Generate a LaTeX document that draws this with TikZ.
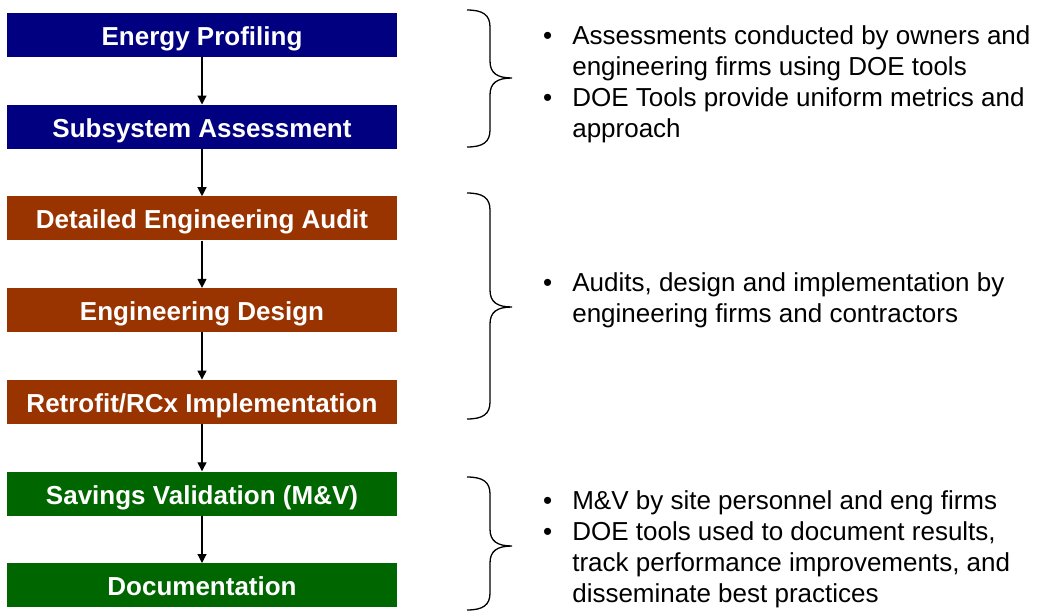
\documentclass[tikz,border=0pt]{standalone}
\usepackage{fontspec}
\setmainfont{Liberation Sans}
\usepackage{xcolor}
\usetikzlibrary{arrows.meta,positioning}

\definecolor{stepnavy}{HTML}{000080}
\definecolor{stepbrown}{HTML}{993300}
\definecolor{stepgreen}{HTML}{006600}

\begin{document}
\begin{tikzpicture}[x=1pt, y=-1pt,
  stepbox/.style={fill=#1, text=white, minimum width=390pt, minimum height=44pt,
    inner sep=0pt, text height=21pt, text depth=0pt,
    font=\fontsize{26}{31}\selectfont\bfseries},
  flow/.style={-{Triangle[width=9pt,length=9pt]}, line width=1.2pt},
  brc/.style={line width=1.3pt},
  note/.style={anchor=west, inner sep=0pt, font=\fontsize{26}{31}\selectfont}
]
\useasboundingbox (0,0) rectangle (1044,611);

% 尺寸与参数
\def\gap{47.3pt}
\def\bl{467}   % 括号左端
\def\bm{490}   % 括号竖线
\def\br{512}   % 括号尖端
\def\bracepath#1#2#3{%
  \draw[brc] (\bl,#1) .. controls (\bl+16,#1) and (\bm,#1+5) .. (\bm,#1+17)
    -- (\bm,#2-17) .. controls (\bm,#2-5) and (\bm+7,#2) .. (\br,#2)
    .. controls (\bm+7,#2) and (\bm,#2+5) .. (\bm,#2+17)
    -- (\bm,#3-17) .. controls (\bm,#3-5) and (\bl+16,#3) .. (\bl,#3);}

% 左侧流程框
\node[stepbox=stepnavy] (prof) at (202,35) {Energy Profiling};
\node[stepbox=stepnavy, below=\gap of prof] (subsys) {Subsystem Assessment};
\node[stepbox=stepbrown, below=\gap of subsys] (audit) {Detailed Engineering Audit};
\node[stepbox=stepbrown, below=\gap of audit] (design) {Engineering Design};
\node[stepbox=stepbrown, below=\gap of design] (retro) {Retrofit/RCx Implementation};
\node[stepbox=stepgreen, below=\gap of retro] (mv) {Savings Validation (M\&V)};
\node[stepbox=stepgreen, below=\gap of mv] (doc) {Documentation};

% 箭头
\draw[flow] (prof) -- (subsys);
\draw[flow] (subsys) -- (audit);
\draw[flow] (audit) -- (design);
\draw[flow] (design) -- (retro);
\draw[flow] (retro) -- (mv);
\draw[flow] (mv) -- (doc);

% 右侧大括号
\bracepath{10}{78}{147}
\bracepath{193}{307}{419}
\bracepath{477}{546}{610}

% 说明文字
\node[note] (n1) at (543,84.5) {\begin{tabular}{@{}l@{\hspace{20pt}}l@{}}
  \textbullet & Assessments conducted by owners and\\
              & engineering firms using DOE tools\\
  \textbullet & DOE Tools provide uniform metrics and\\
              & approach
\end{tabular}};
\node[note] (n2) at (543,301) {\begin{tabular}{@{}l@{\hspace{20pt}}l@{}}
  \textbullet & Audits, design and implementation by\\
              & engineering firms and contractors
\end{tabular}};
\node[note] (n3) at (543,550) {\begin{tabular}{@{}l@{\hspace{20pt}}l@{}}
  \textbullet & M\&V by site personnel and eng firms\\
  \textbullet & DOE tools used to document results,\\
              & track performance improvements, and\\
              & disseminate best practices
\end{tabular}};

\end{tikzpicture}
\end{document}
